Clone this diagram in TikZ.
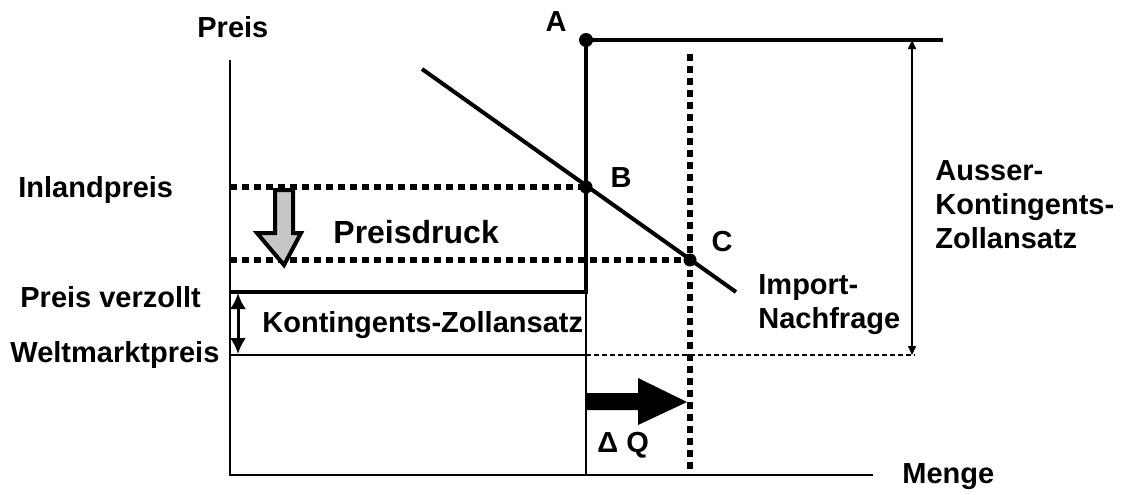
\documentclass[tikz,border=0pt]{standalone}
\usepackage{fontspec}
\setmainfont{Liberation Sans}
\usetikzlibrary{arrows.meta,calc}

\begin{document}
\begin{tikzpicture}[
  x=0.5pt,y=-0.5pt,
  lab/.style={font=\fontsize{14.5}{17}\selectfont\bfseries,inner sep=0pt,anchor=west},
  axisline/.style={line width=1pt},
  heavy/.style={line width=2pt},
  dotline/.style={line width=2.8pt,dash pattern=on 3.5pt off 2.5pt},
  thindash/.style={line width=0.7pt,dash pattern=on 2.5pt off 1.5pt},
  pt/.style={circle,fill,inner sep=0pt,minimum size=6.5pt},
  dimarr/.style={{Triangle[length=4.5pt,width=4pt]}-{Triangle[length=4.5pt,width=4pt]},line width=0.8pt}
]
  \useasboundingbox (0,0) rectangle (1122,494);

  % axes
  \coordinate (O) at (230,475);
  \coordinate (ytop) at (230,60);
  \coordinate (xend) at (873,475);
  \draw[axisline] (ytop) -- (O) -- (xend);
  \node[lab] (preis) at (197,27) {Preis};
  \node[lab] (menge) at (902,477) {Menge};

  % points on the curves
  \node[pt,minimum size=7pt] (A) at (586,40) {};
  \node[pt] (B) at (586,187) {};
  \node[pt] (C) at (690,260) {};
  \coordinate (Aend) at (943,40);
  \coordinate (K) at (586,292);
  \coordinate (W) at (586,355);
  \coordinate (Wend) at (915,355);
  \coordinate (Ctop) at (690,54);
  \coordinate (nd1) at (422,69);
  \coordinate (nd2) at (736,292);

  % supply step and world price
  \draw[heavy] (Aend) -- (A.center) -- (K) -- (K-|O);
  \draw[axisline] (K) -- (K|-O);
  \draw[axisline] (W-|O) -- (W);
  \draw[thindash] (W) -- (Wend);

  % import demand
  \draw[heavy] (nd1) -- (nd2);

  % price levels and quantity
  \draw[dotline] (B-|O) -- (B.center);
  \draw[dotline] (C-|O) -- (C.center);
  \draw[dotline] (Ctop) -- (C|-O);

  % tariff brackets
  \draw[dimarr] (912,40) -- (912,355);
  \draw[{Latex[length=8pt,width=8pt]}-{Latex[length=8pt,width=8pt]},line width=1.5pt] (238,293) -- (238,354);

  % block arrows
  \draw[line width=2pt,fill=gray!45] (275,190) -- (293,190) -- (293,233) -- (301,233)
    -- (284,265) -- (257,233) -- (275,233) -- cycle;
  \fill (585,393) -- (638,393) -- (638,378) -- (687,402) -- (638,425) -- (638,410) -- (585,410) -- cycle;

  % labels
  \node[lab,anchor=center] (labA) at (556,22) {A};
  \node[lab,anchor=center] (labB) at (621,178) {B};
  \node[lab,anchor=center] (labC) at (722,242) {C};
  \node[lab] (inland) at (18,190) {Inlandpreis};
  \node[lab] (verzollt) at (20,297) {Preis verzollt};
  \node[lab] (welt) at (10,355) {Weltmarktpreis};
  \node[lab,font=\fontsize{16}{19}\selectfont\bfseries] (druck) at (333,232) {Preisdruck};
  \node[lab] (kzoll) at (262,325) {Kontingents-Zollansatz};
  \node[lab,align=left] (nachfrage) at (758,305) {Import-\\Nachfrage};
  \node[lab,align=left] (ausser) at (935,205) {Ausser-\\Kontingents-\\Zollansatz};
  \node[lab] (dq) at (597,445) {Δ Q};
\end{tikzpicture}
\end{document}
